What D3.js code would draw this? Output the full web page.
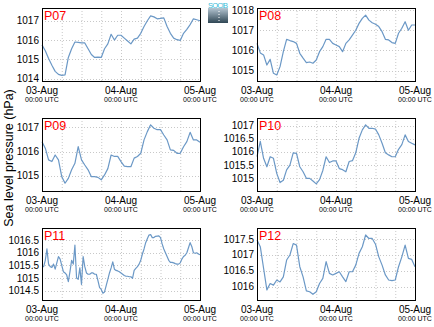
<!DOCTYPE html>
<html><head><meta charset="utf-8">
<script src="https://cdn.jsdelivr.net/npm/d3@7"></script>
<style>body{margin:0;background:#fff}svg{display:block}text{font-family:"Liberation Sans",Arial,sans-serif}</style>
</head><body><svg id="c" width="434" height="327"></svg>
<script>
const panelNames = ["P07","P08","P09","P10","P11","P12"];
const hours = d3.range(0, 49);
const halfHours = d3.range(0, 48.5, 0.5);
const p07 = [1015.75,1015.45,1015.05,1014.7,1014.38,1014.22,1014.17,1014.2,1015.1,1015.55,1015.9,1015.88,1015.85,1015.85,1015.55,1015.25,1015.1,1015.12,1015.1,1015.55,1015.8,1016.3,1016.0,1016.25,1016.25,1016.1,1015.95,1015.8,1016.05,1016.1,1016.35,1016.7,1017.0,1017.25,1017.2,1017.1,1017.12,1017.15,1016.7,1016.35,1016.1,1016.02,1015.98,1016.35,1016.55,1016.8,1017.1,1017.05,1017.0];
const p08 = [1016.35,1015.88,1015.78,1015.28,1015.56,1014.87,1014.79,1015.2,1015.94,1016.55,1016.49,1016.44,1016.35,1015.86,1015.62,1015.4,1015.43,1015.37,1015.53,1015.94,1016.19,1016.55,1016.55,1016.35,1016.27,1016.19,1015.94,1016.35,1016.52,1016.76,1017.0,1017.34,1017.59,1017.75,1017.5,1017.37,1017.3,1017.18,1016.93,1016.55,1016.52,1016.39,1016.35,1016.85,1017.1,1017.42,1017.0,1017.26,1017.26];
const p09 = [1016.4,1016.14,1015.66,1015.59,1015.86,1015.66,1014.97,1014.7,1014.9,1015.25,1015.52,1016.2,1015.66,1015.45,1015.25,1014.97,1014.97,1014.94,1014.84,1015.04,1015.3,1015.86,1015.8,1015.8,1015.59,1015.4,1015.38,1015.38,1015.73,1015.8,1015.93,1016.48,1016.82,1017.1,1016.96,1016.9,1016.9,1016.68,1016.48,1016.07,1016.05,1015.93,1015.93,1016.2,1016.41,1016.79,1016.48,1016.48,1016.38];
const p10 = [1015.82,1016.4,1015.76,1015.44,1015.82,1015.76,1015.19,1014.84,1014.93,1015.32,1015.5,1015.97,1015.95,1015.44,1015.25,1015.0,1015.0,1014.9,1014.79,1014.95,1015.3,1015.82,1015.6,1015.66,1015.66,1015.37,1015.33,1015.25,1015.64,1015.67,1015.97,1016.52,1016.84,1017.03,1016.9,1016.9,1016.87,1016.65,1016.33,1015.97,1015.89,1015.82,1015.82,1016.1,1016.28,1016.65,1016.4,1016.33,1016.27];
const p11 = [1015.45,1015.45,1015.7,1016.15,1015.55,1015.45,1015.42,1015.55,1015.35,1015.6,1015.85,1015.75,1015.5,1015.25,1015.2,1015.12,1014.86,1015.25,1015.7,1015.55,1016.3,1015.0,1014.95,1015.4,1014.75,1015.85,1015.45,1015.2,1015.15,1015.15,1015.2,1015.2,1015.15,1015.15,1014.9,1014.62,1014.55,1014.4,1014.45,1014.7,1014.95,1015.2,1015.4,1015.64,1015.35,1015.3,1015.28,1015.25,1015.2,1015.15,1015.1,1015.07,1015.07,1015.05,1015.05,1014.99,1015.3,1015.38,1015.45,1015.55,1015.7,1015.95,1016.15,1016.4,1016.55,1016.7,1016.72,1016.6,1016.6,1016.65,1016.66,1016.67,1016.6,1016.35,1016.15,1016.0,1015.85,1015.7,1015.62,1015.62,1015.6,1015.57,1015.55,1015.55,1015.6,1015.75,1015.85,1015.9,1016.0,1016.2,1016.4,1016.25,1016.0,1015.98,1016.0,1015.95,1015.92];
const p12 = [1017.47,1017.26,1016.58,1015.9,1016.1,1016.05,1016.21,1016.15,1016.31,1016.84,1017.0,1017.36,1017.31,1016.63,1016.31,1015.87,1015.84,1015.76,1015.84,1016.1,1016.26,1016.79,1016.42,1016.37,1016.42,1016.47,1016.31,1016.16,1016.47,1016.47,1016.68,1017.05,1017.26,1017.63,1017.52,1017.52,1017.34,1016.94,1016.68,1016.37,1016.21,1016.19,1016.21,1016.63,1016.94,1017.31,1016.89,1016.86,1016.63];
const yTicks = [
  [1014,1015,1016,1017],
  [1015,1016,1017,1018],
  [1015,1016,1017],
  [1015,1015.5,1016,1016.5,1017],
  [1014.5,1015,1015.5,1016,1016.5],
  [1016,1016.5,1017,1017.5]
];
const yDomains = [[1013.88,1017.66],[1014.49,1018.1],[1014.38,1017.38],[1014.52,1017.29],[1014.13,1016.98],[1015.58,1017.85]];
const xTickDays = ["03-Aug","04-Aug","05-Aug"];
const xTickSub = "00:00 UTC";
const yTitle = "Sea level pressure (hPa)";

const series = [[hours,p07],[hours,p08],[hours,p09],[hours,p10],[halfHours,p11],[hours,p12]];
const t0 = Date.UTC(2015,7,3);
const svg = d3.select("#c");
const colX = [42, 257], rowY = [8, 118, 228], W = 158, Hs = [73,73,72];

panelNames.forEach((name,i)=>{
  const col = i%2, row = Math.floor(i/2);
  const h = Hs[row];
  const g = svg.append("g").attr("transform",`translate(${colX[col]},${rowY[row]})`);
  const x = d3.scaleUtc().domain([new Date(t0), new Date(t0+48*3600e3)]).range([0,W]);
  const y = d3.scaleLinear().domain(yDomains[i]).range([h,0]);
  const grid6 = d3.utcHour.every(6).range(new Date(t0+1), new Date(t0+48*3600e3));
  g.selectAll(".vg").data(grid6).join("line")
    .attr("x1",d=>x(d)+0.5).attr("x2",d=>x(d)+0.5).attr("y1",0).attr("y2",h)
    .attr("stroke","#c8c8c8").attr("stroke-dasharray","1,2");
  g.selectAll(".hg").data(yTicks[i]).join("line")
    .attr("x1",0).attr("x2",W).attr("y1",d=>Math.round(y(d))+0.5).attr("y2",d=>Math.round(y(d))+0.5)
    .attr("stroke","#c8c8c8").attr("stroke-dasharray","1,2");
  const [ts, vs] = series[i];
  const line = d3.line().x((d,k)=>x(new Date(t0+ts[k]*3600e3))).y(d=>y(d)).curve(d3.curveLinear);
  g.append("path").datum(vs).attr("d",line).attr("fill","none")
    .attr("stroke","#6b98c6").attr("stroke-width",1.2).attr("stroke-linejoin","round");
  g.append("rect").attr("x",0.5).attr("y",0.5).attr("width",W).attr("height",h)
    .attr("fill","none").attr("stroke","#000").attr("stroke-width",1);
  g.selectAll(".yl").data(yTicks[i]).join("text")
    .attr("x",-3).attr("y",d=>y(d)).attr("dy","0.35em").attr("text-anchor","end")
    .attr("font-size",10).attr("fill","#000").text(d=>d);
  const dayTicks = [0,24,48].map(hh=>new Date(t0+hh*3600e3));
  dayTicks.forEach((d,k)=>{
    g.append("text").attr("x",x(d)).attr("y",h+13).attr("text-anchor","middle")
      .attr("font-size",10).attr("fill","#000").text(xTickDays[k]);
    g.append("text").attr("x",x(d)).attr("y",h+21).attr("text-anchor","middle")
      .attr("font-size",7).attr("fill","#000").text(xTickSub);
  });
  g.append("text").attr("x",2).attr("y",11.5).attr("font-size",12.5).attr("fill","#ff0000").text(name);
});

svg.append("text").attr("transform","translate(13,158) rotate(-90)").attr("text-anchor","middle")
  .attr("font-size",12.5).attr("fill","#000").text(yTitle);

// logo
const defs = svg.append("defs");
const lg = defs.append("linearGradient").attr("id","lg").attr("x1",0).attr("x2",0).attr("y1",0).attr("y2",1);
lg.append("stop").attr("offset","0%").attr("stop-color","#b5c6d2");
lg.append("stop").attr("offset","100%").attr("stop-color","#2f4654");
svg.append("rect").attr("x",208).attr("y",8).attr("width",20).attr("height",15).attr("fill","url(#lg)");
svg.append("line").attr("x1",219).attr("x2",219).attr("y1",11).attr("y2",22).attr("stroke","#fff").attr("stroke-dasharray","1,2");
svg.append("text").attr("x",218).attr("y",7.5).attr("text-anchor","middle").attr("font-size",7.5)
  .attr("fill","#3bbbd9").attr("textLength",20).text("SOCIB");
</script></body></html>
